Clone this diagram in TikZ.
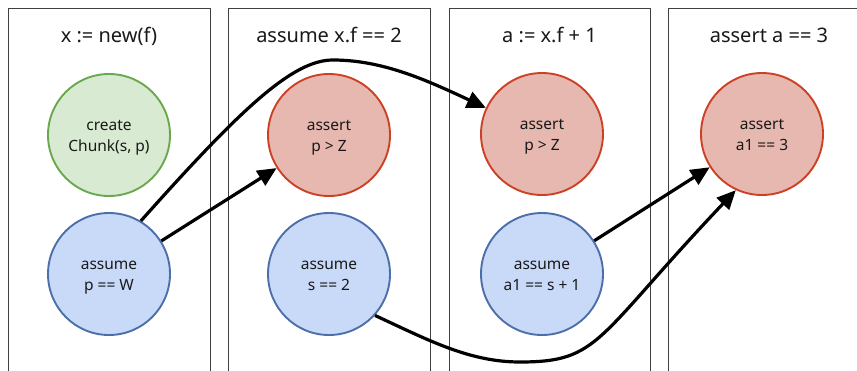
\documentclass[tikz,border=0pt]{standalone}
\usepackage{fontspec}
\setmainfont{Noto Sans}
\usetikzlibrary{arrows.meta}
\definecolor{gfill}{RGB}{217,234,211}
\definecolor{gline}{RGB}{106,168,79}
\definecolor{rfill}{RGB}{230,184,175}
\definecolor{rline}{RGB}{204,65,37}
\definecolor{bfill}{RGB}{201,218,248}
\definecolor{bline}{RGB}{76,110,170}
\definecolor{txt}{RGB}{25,25,25}
\newcommand{\twol}[2]{\rule{0pt}{15.5pt}#1\\#2\rule[-4pt]{0pt}{4pt}}
\tikzset{
  panel/.style={draw=black!75, line width=1pt},
  ptitle/.style={anchor=base, font=\fontsize{20}{24}\selectfont, text=txt, inner sep=0pt},
  circ/.style={circle, minimum size=122pt, inner sep=0pt, line width=1.9pt, align=center,
    font=\fontsize{15.5}{21.5}\selectfont, text=txt},
  gcirc/.style={circ, draw=gline, fill=gfill},
  rcirc/.style={circ, draw=rline, fill=rfill},
  bcirc/.style={circ, draw=bline, fill=bfill},
  conn/.style={line width=3.2pt, -{Triangle[length=19pt,width=17pt]}}
}
\begin{document}
\begin{tikzpicture}[x=1pt, y=-1pt]
\useasboundingbox (0,0) rectangle (857,370);
% panels
\draw[panel] (8.5,380) -- (8.5,8.5) -- (210,8.5) -- (210,380);
\draw[panel] (228.5,380) -- (228.5,8.5) -- (430,8.5) -- (430,380);
\draw[panel] (449,380) -- (449,8.5) -- (650,8.5) -- (650,380);
\draw[panel] (668.5,380) -- (668.5,8.5) -- (880,8.5) -- (880,380);
% titles
\node[ptitle] (t1) at (109,42) {x := new(f)};
\node[ptitle] (t2) at (329,42) {assume x.f == 2};
\node[ptitle] (t3) at (549.5,42) {a := x.f + 1};
\node[ptitle] (t4) at (769,42) {assert a == 3};
% circles
\node[gcirc] (cc) at (109,135) {\twol{create}{Chunk(s, p)}};
\node[bcirc] (pw) at (109,274) {\twol{assume}{p == W}};
\node[rcirc] (a2) at (329,135) {\twol{assert}{p > Z}};
\node[bcirc] (s2) at (329,274) {\twol{assume}{s == 2}};
\node[rcirc] (a3) at (542,134) {\twol{assert}{p > Z}};
\node[bcirc] (n3) at (542,274) {\twol{assume}{a1 == s + 1}};
\node[rcirc] (a4) at (762,134) {\twol{assert}{a1 == 3}};
% connectors
\coordinate (peak1) at (333,60);
\coordinate (low1) at (520,362);
\draw[conn] (pw) -- (a2);
\draw[conn] (n3) -- (a4);
\draw[conn] (pw.59) .. controls (242,107.5) and (293,60) .. (peak1)
  .. controls (383,60) and (427.6,80.6) .. (a3.155);
\draw[conn] (s2.-42) .. controls (430,341) and (470,362) .. (low1)
  .. controls (600,362) and (595,338.8) .. (a4.245);
\end{tikzpicture}
\end{document}
